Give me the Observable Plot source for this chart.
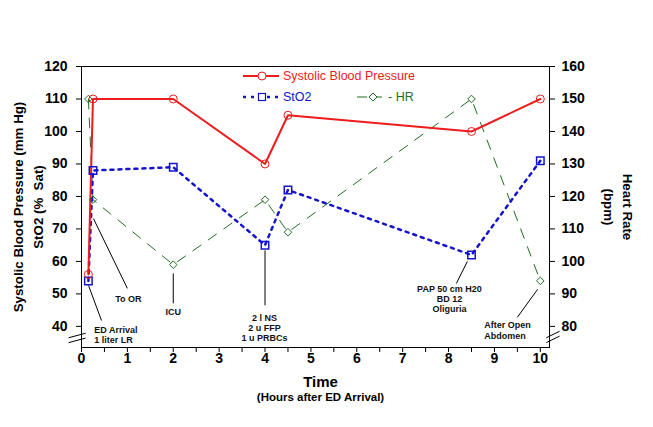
<!DOCTYPE html>
<html>
<head>
<meta charset="utf-8">
<script src="https://cdn.jsdelivr.net/npm/d3@7"></script>
<script src="https://cdn.jsdelivr.net/npm/@observablehq/plot@0.6"></script>
<style>
  html, body { margin: 0; padding: 0; background: #fff; }
  #chart svg { display: block; }
</style>
</head>
<body>
<div id="chart"></div>
<script>
// ---- data ----
const hours = [0.15, 0.25, 2, 4, 4.5, 8.5, 10];
const sbp   = [56, 110, 110, 90, 105, 100, 110];
const sto2  = [54, 88, 89, 65, 82, 62, 91];
const hr    = [150, 119, 99, 119, 109, 150, 94];
const hrOffset = 40; // right axis = left axis + 40
const leftTicks = [40, 50, 60, 70, 80, 90, 100, 110, 120];
const xTicks = [0, 1, 2, 3, 4, 5, 6, 7, 8, 9, 10];
const xHalfTicks = [0.5, 1.5, 2.5, 3.5, 4.5, 5.5, 6.5, 7.5, 8.5, 9.5];

const seriesNames = ["Systolic Blood Pressure", "StO2", "- HR"];
const colors = { sbp: "#ee1c1c", sto2: "#1414d0", hr: "#1f6e1f" };

// annotations (x in hours, y in left-axis units)
const notesStart = [
  { x: 0.28, y: 37.5, label: "ED Arrival\n1 liter LR" },
  { x: 8.78, y: 38.8, label: "After Open\nAbdomen" }
];
const notesMiddle = [
  { x: 1.02, y: 48.6, label: "To OR" },
  { x: 2.0,  y: 44.6, label: "ICU" },
  { x: 3.99, y: 39.7, label: "2 l NS\n2 u FFP\n1 u PRBCs" },
  { x: 8.02, y: 48.6, label: "PAP 50 cm H20\nBD 12\nOliguria" }
];
const leaders = [
  { x1: 0.153, y1: 52.6, x2: 0.436, y2: 41.8 },
  { x1: 0.26,  y1: 73.2, x2: 1.0,   y2: 51.7 },
  { x1: 2.0,   y1: 56.3, x2: 2.0,   y2: 47.1 },
  { x1: 4.0,   y1: 63.4, x2: 4.0,   y2: 46.5 },
  { x1: 8.41,  y1: 60.0, x2: 8.17,  y2: 53.2 },
  { x1: 9.94,  y1: 51.4, x2: 9.50,  y2: 42.8 }
];
// axis break marks
const breaks = [
  { x1: -0.28, y1: 35.0, x2: 0.09, y2: 36.4 },
  { x1: -0.28, y1: 36.5, x2: 0.09, y2: 37.9 },
  { x1: 10.13, y1: 35.0, x2: 10.42, y2: 37.0 },
  { x1: 10.13, y1: 36.5, x2: 10.42, y2: 38.5 }
];

const rows = hours.map((t, i) => ({ t, sbp: sbp[i], sto2: sto2[i], hr: hr[i] - hrOffset }));

const chart = Plot.plot({
  width: 653,
  height: 427,
  marginLeft: 81,
  marginRight: 104,
  marginTop: 66,
  marginBottom: 80,
  style: { fontFamily: "'Liberation Sans', Arial, sans-serif", fontWeight: "bold", background: "#fff", color: "#000" },
  x: { domain: [0, 10.2] },
  y: { domain: [33.5, 120] },
  marks: [
    Plot.frame({ stroke: "#000" }),
    Plot.axisY({ anchor: "left", ticks: leftTicks, tickSize: 5, tickPadding: 9, fontSize: 14, fontWeight: "bold", label: null }),
    Plot.axisY({ anchor: "right", ticks: leftTicks, tickFormat: d => d + hrOffset, tickSize: 5, tickPadding: 7, fontSize: 14, fontWeight: "bold", label: null }),
    Plot.axisX({ ticks: xTicks, tickSize: 5, tickPadding: 1, fontSize: 14, fontWeight: "bold", label: null }),
    Plot.axisX({ ticks: xHalfTicks, tickSize: 5, tickFormat: () => "", label: null }),
    Plot.link(breaks, { x1: "x1", y1: "y1", x2: "x2", y2: "y2", stroke: "#000", strokeWidth: 1 }),
    Plot.link(leaders, { x1: "x1", y1: "y1", x2: "x2", y2: "y2", stroke: "#000", strokeWidth: 1 }),
    Plot.line(rows, { x: "t", y: "hr", stroke: colors.hr, strokeWidth: 1, strokeDasharray: "10,9" }),
    Plot.line(rows, { x: "t", y: "sto2", stroke: colors.sto2, strokeWidth: 2.5, strokeDasharray: "3,5" }),
    Plot.line(rows, { x: "t", y: "sbp", stroke: colors.sbp, strokeWidth: 2 }),
    Plot.dot(rows, { x: "t", y: "hr", symbol: "diamond2", r: 3.4, stroke: colors.hr, fill: "none", strokeWidth: 1 }),
    Plot.dot(rows, { x: "t", y: "sto2", symbol: "square", r: 4.2, stroke: colors.sto2, fill: "none", strokeWidth: 1.5 }),
    Plot.dot(rows, { x: "t", y: "sbp", symbol: "circle", r: 4, stroke: colors.sbp, fill: "none", strokeWidth: 1 }),
    Plot.text(notesStart, { x: "x", y: "y", text: "label", textAnchor: "start", lineAnchor: "middle", fontSize: 9, lineHeight: 1.12, fill: "#111" }),
    Plot.text(notesMiddle, { x: "x", y: "y", text: "label", textAnchor: "middle", lineAnchor: "middle", fontSize: 9, lineHeight: 1.12, fill: "#111" }),
    Plot.text(["Systolic Blood Pressure (mm Hg)"], { frameAnchor: "left", dx: -63, rotate: -90, textAnchor: "middle", lineAnchor: "middle", fontSize: 13.3 }),
    Plot.text(["StO2 (%  Sat)"], { frameAnchor: "left", dx: -43, rotate: -90, textAnchor: "middle", lineAnchor: "middle", fontSize: 13.3 }),
    Plot.text(["Heart Rate"], { frameAnchor: "right", dx: 78, rotate: 90, textAnchor: "middle", lineAnchor: "middle", fontSize: 13.3 }),
    Plot.text(["(bpm)"], { frameAnchor: "right", dx: 59, rotate: 90, textAnchor: "middle", lineAnchor: "middle", fontSize: 13.3 }),
    Plot.text(["Time"], { frameAnchor: "bottom", dx: 5, dy: 35, textAnchor: "middle", lineAnchor: "middle", fontSize: 15 }),
    Plot.text(["(Hours after ED Arrival)"], { frameAnchor: "bottom", dx: 5, dy: 50, textAnchor: "middle", lineAnchor: "middle", fontSize: 11.5 })
  ]
});

// ---- legend drawn inside the plot's svg ----
const svg = d3.select(chart);
const lg = svg.append("g")
  .attr("font-family", "'Liberation Sans', Arial, sans-serif")
  .attr("font-weight", "normal")
  .attr("font-size", 12.5)
  .attr("text-anchor", "start");
const legendItems = [
  { name: seriesNames[0], color: colors.sbp, x: 243, y: 76, w: 36, dash: null, sw: 2, sym: "circle" },
  { name: seriesNames[1], color: colors.sto2, x: 243, y: 97, w: 36, dash: "3,5", sw: 2.5, sym: "square" },
  { name: seriesNames[2], color: colors.hr, x: 357, y: 97, w: 25, dash: "10,9", sw: 1, sym: "diamond" }
];
legendItems.forEach(d => {
  const g = lg.append("g");
  g.append("line").attr("x1", d.x).attr("x2", d.x + d.w).attr("y1", d.y).attr("y2", d.y)
    .attr("stroke", d.color).attr("stroke-width", d.sw).attr("stroke-dasharray", d.dash);
  const cx = d.x + (d.sym === "diamond" ? 16 : d.w / 2 + 1);
  if (d.sym === "circle") g.append("circle").attr("cx", cx).attr("cy", d.y).attr("r", 4).attr("fill", "#fff").attr("stroke", d.color);
  if (d.sym === "square") g.append("rect").attr("x", cx - 3.5).attr("y", d.y - 3.5).attr("width", 7).attr("height", 7).attr("fill", "#fff").attr("stroke", d.color).attr("stroke-width", 1.2);
  if (d.sym === "diamond") g.append("path").attr("d", `M${cx},${d.y - 4}L${cx + 4},${d.y}L${cx},${d.y + 4}L${cx - 4},${d.y}Z`).attr("fill", "#fff").attr("stroke", d.color);
  g.append("text").attr("x", d.x + d.w + (d.sym === "diamond" ? 6 : 4)).attr("y", d.y).attr("dy", "0.35em")
    .attr("text-anchor", "start").attr("fill", d.color).text(d.name);
});

document.getElementById("chart").appendChild(chart);
</script>
</body>
</html>
